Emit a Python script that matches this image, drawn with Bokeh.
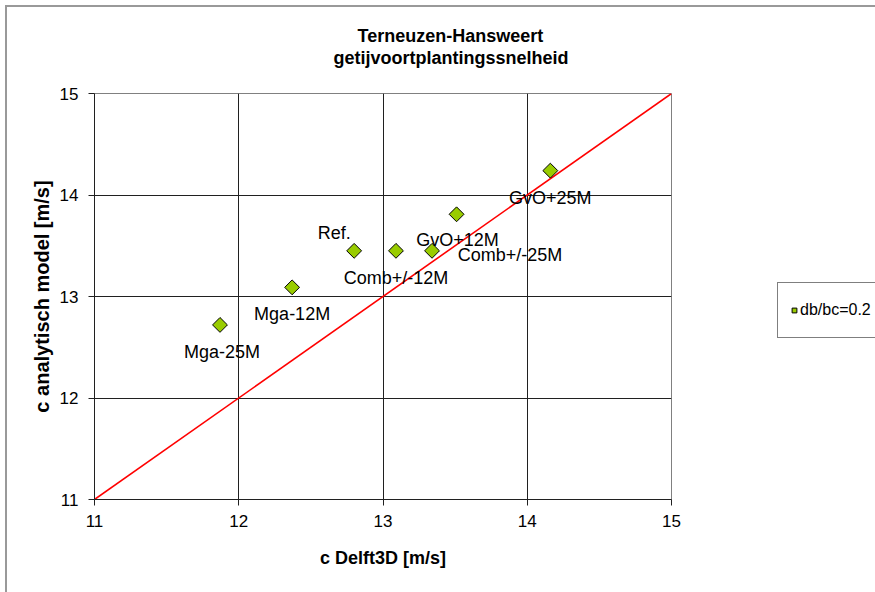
import math
from bokeh.plotting import figure
from bokeh.models import (ColumnDataSource, LabelSet, Legend, LegendItem,
                          Range1d, FixedTicker, Title)
from bokeh.core.properties import value
from bokeh.embed import file_html
from bokeh.resources import INLINE

# ---- data ----
names = ["Mga-25M", "Mga-12M", "Ref.", "Comb+/-12M", "Comb+/-25M", "GvO+12M", "GvO+25M"]
c_delft3d = [11.87, 12.37, 12.80, 13.09, 13.34, 13.51, 14.16]
c_analytisch = [12.72, 13.09, 13.45, 13.45, 13.45, 13.81, 14.24]
ref_line = [11, 15]
axis_ticks = [11, 12, 13, 14, 15]
series_name = "db/bc=0.2"
title_line1 = "Terneuzen-Hansweert"
title_line2 = "getijvoortplantingssnelheid"
x_label = "c Delft3D [m/s]"
y_label = "c analytisch model [m/s]"

# label placement (pixels, styling only)
label_dx = [2, 0, -20, 0, 78, 1, 0]
label_dy = [-27, -27, 18, -27, -4, -26, -27]

FONT = "Liberation Sans"

src = ColumnDataSource(dict(x=c_delft3d, y=c_analytisch, name=names,
                            dx=label_dx, dy=label_dy))

# chart-area border (left and top edges only, as in the reference)
chart_border = ("linear-gradient(#999999,#999999) 5px 5px / 2px 100% no-repeat, "
                "linear-gradient(#999999,#999999) 5px 5px / 100% 2px no-repeat, white")

p = figure(frame_width=577, frame_height=406, output_backend="svg", toolbar_location=None,
           x_range=Range1d(ref_line[0], ref_line[1]),
           y_range=Range1d(ref_line[0], ref_line[1]),
           min_border_left=94, min_border_right=204,
           min_border_top=93, min_border_bottom=93,
           background_fill_color="white", border_fill_color=None,
           styles={"background": chart_border})

p.outline_line_color = "#808080"
p.outline_line_width = 1

# grids
for g in (p.xgrid, p.ygrid):
    g.ticker = FixedTicker(ticks=axis_ticks[1:-1])
    g.grid_line_color = "#202020"
    g.grid_line_width = 1

# axes
for ax in (p.xaxis, p.yaxis):
    ax.ticker = FixedTicker(ticks=axis_ticks)
    ax.axis_line_color = "#202020"
    ax.major_tick_line_color = "#202020"
    ax.major_tick_out = 6
    ax.major_tick_in = 0
    ax.minor_tick_line_color = None
    ax.major_label_text_font = FONT
    ax.major_label_text_font_size = "17px"
    ax.major_label_text_color = "#000000"
    ax.axis_label_text_font = FONT
    ax.axis_label_text_font_style = "bold"
    ax.axis_label_text_color = "#000000"

p.xaxis.axis_label = x_label
p.xaxis.axis_label_text_font_size = "18px"
p.xaxis.major_label_standoff = 9
p.xaxis.axis_label_standoff = 18

p.yaxis.axis_label = y_label
p.yaxis.axis_label_text_font_size = "20px"
p.yaxis.major_label_standoff = 10
p.yaxis.axis_label_standoff = 4

# titles (first added is closest to the plot); a blank spacer keeps the gap
spacer = Title(text=" ", text_font_size="1px", standoff=23)
t2 = Title(text=title_line2, align="left", offset=239, standoff=0,
           text_font=FONT, text_font_size="18px", text_font_style="bold",
           text_color="#000000")
t1 = Title(text=title_line1, align="left", offset=263, standoff=0,
           text_font=FONT, text_font_size="18px", text_font_style="bold",
           text_color="#000000")
p.add_layout(spacer, "above")
p.add_layout(t2, "above")
p.add_layout(t1, "above")

# reference line
p.line(x=ref_line, y=ref_line, line_color="#ff0000", line_width=1.6)

# points
r = p.scatter(x="x", y="y", source=src, marker="square", angle=math.pi / 4,
              size=10.5, fill_color="#99cc00", line_color="#000000", line_width=1)

labels = LabelSet(x="x", y="y", text="name", source=src,
                  x_offset="dx", y_offset="dy",
                  text_align="center", text_baseline="middle",
                  text_font=value(FONT), text_font_size=value("18px"),
                  text_color="#000000")
p.add_layout(labels)

legend = Legend(items=[LegendItem(label=series_name, renderers=[r])],
                location=(106, 161), padding=10, margin=0,
                glyph_width=12, glyph_height=34, label_height=34,
                label_standoff=0,
                label_text_font=FONT, label_text_font_size="16px",
                label_text_color="#000000",
                border_line_color="#000000", border_line_width=1,
                background_fill_color="white", background_fill_alpha=1.0)
p.add_layout(legend, "right")

open("out.html", "w").write(file_html(p, INLINE))
